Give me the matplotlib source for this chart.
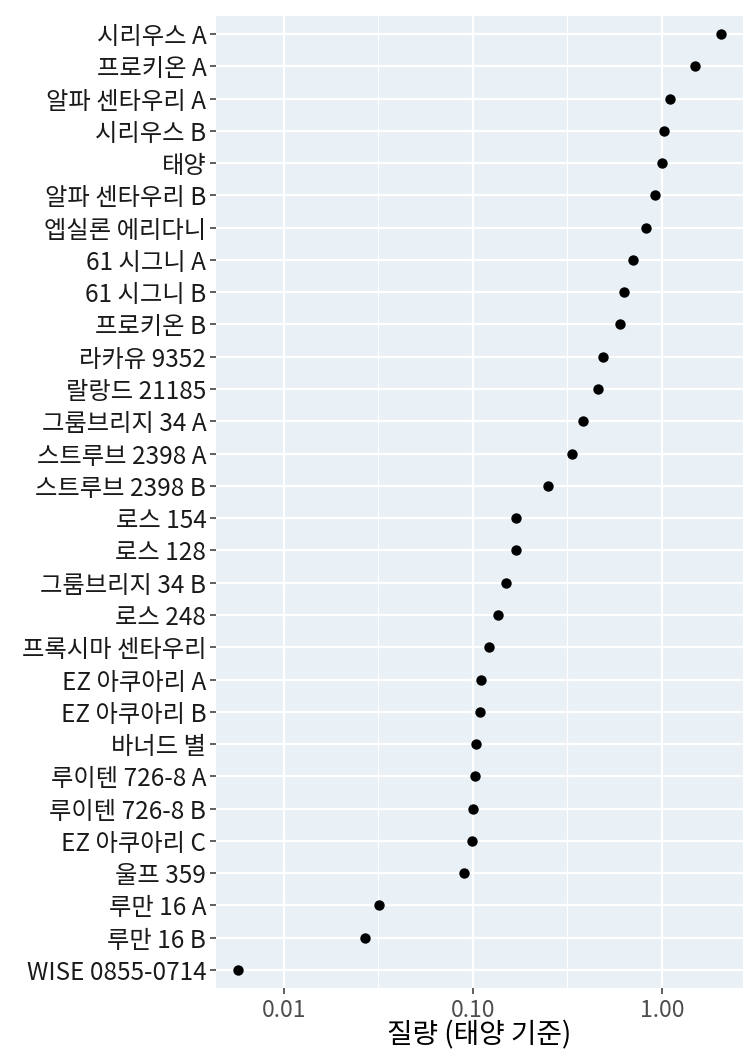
import numpy as np
import matplotlib
matplotlib.use("Agg")
import matplotlib.pyplot as plt
from matplotlib.ticker import FixedLocator, NullFormatter

plt.rcParams["font.family"] = ["Noto Sans CJK KR", "DejaVu Sans"]
plt.rcParams["font.weight"] = "medium"

# stars, top to bottom, mass in solar masses
stars = [
    "시리우스 A", "프로키온 A", "알파 센타우리 A", "시리우스 B", "태양",
    "알파 센타우리 B", "엡실론 에리다니", "61 시그니 A", "61 시그니 B", "프로키온 B",
    "라카유 9352", "랄랑드 21185", "그룸브리지 34 A", "스트루브 2398 A", "스트루브 2398 B",
    "로스 154", "로스 128", "그룸브리지 34 B", "로스 248", "프록시마 센타우리",
    "EZ 아쿠아리 A", "EZ 아쿠아리 B", "바너드 별", "루이텐 726-8 A", "루이텐 726-8 B",
    "EZ 아쿠아리 C", "울프 359", "루만 16 A", "루만 16 B", "WISE 0855-0714",
]
mass = [
    2.06, 1.50, 1.10, 1.02, 1.00,
    0.92, 0.82, 0.70, 0.63, 0.60,
    0.486, 0.46, 0.38, 0.334, 0.25,
    0.17, 0.168, 0.15, 0.136, 0.122,
    0.11, 0.109, 0.104, 0.102, 0.10,
    0.099, 0.09, 0.032, 0.027, 0.0057,
]

x_ticks = [0.01, 0.1, 1.0]
x_tick_labels = ["0.01", "0.10", "1.00"]

fig = plt.figure(figsize=(7.5, 10.5), dpi=100)
ax = fig.add_axes([0.288, 0.059, 0.7027, 0.9258])

n = len(stars)
ypos = np.arange(n)[::-1]

ax.set_facecolor("#E9F1F6")
ax.scatter(mass, ypos, s=56, color="black", zorder=3, linewidths=0)

ax.set_xscale("log")
lo, hi = np.log10(min(mass)), np.log10(max(mass))
pad = (hi - lo) * 0.045
ax.set_xlim(10 ** (lo - pad), 10 ** (hi + pad))
ax.set_ylim(-0.56, n - 1 + 0.56)

ax.xaxis.set_major_locator(FixedLocator(x_ticks))
ax.set_xticklabels(x_tick_labels)
ax.xaxis.set_minor_locator(FixedLocator([10 ** -2.5, 10 ** -1.5, 10 ** -0.5]))
ax.xaxis.set_minor_formatter(NullFormatter())
ax.set_yticks(ypos)
ax.set_yticklabels(stars)

ax.grid(which="major", color="white", linewidth=1.6)
ax.grid(which="minor", axis="x", color="white", linewidth=0.8)
ax.set_axisbelow(True)
for s in ax.spines.values():
    s.set_visible(False)

ax.tick_params(axis="x", which="major", length=4, width=1.1, color="#333333",
               labelsize=16.5, labelcolor="#4D4D4D", pad=4)
ax.tick_params(axis="x", which="minor", length=0)
ax.tick_params(axis="y", length=4, width=1.1, color="#333333",
               labelsize=17.5, labelcolor="#1A1A1A", pad=3)

ax.set_xlabel("질량 (태양 기준)", fontsize=20, color="black", labelpad=-1)

fig.savefig("out.png", dpi=100)
